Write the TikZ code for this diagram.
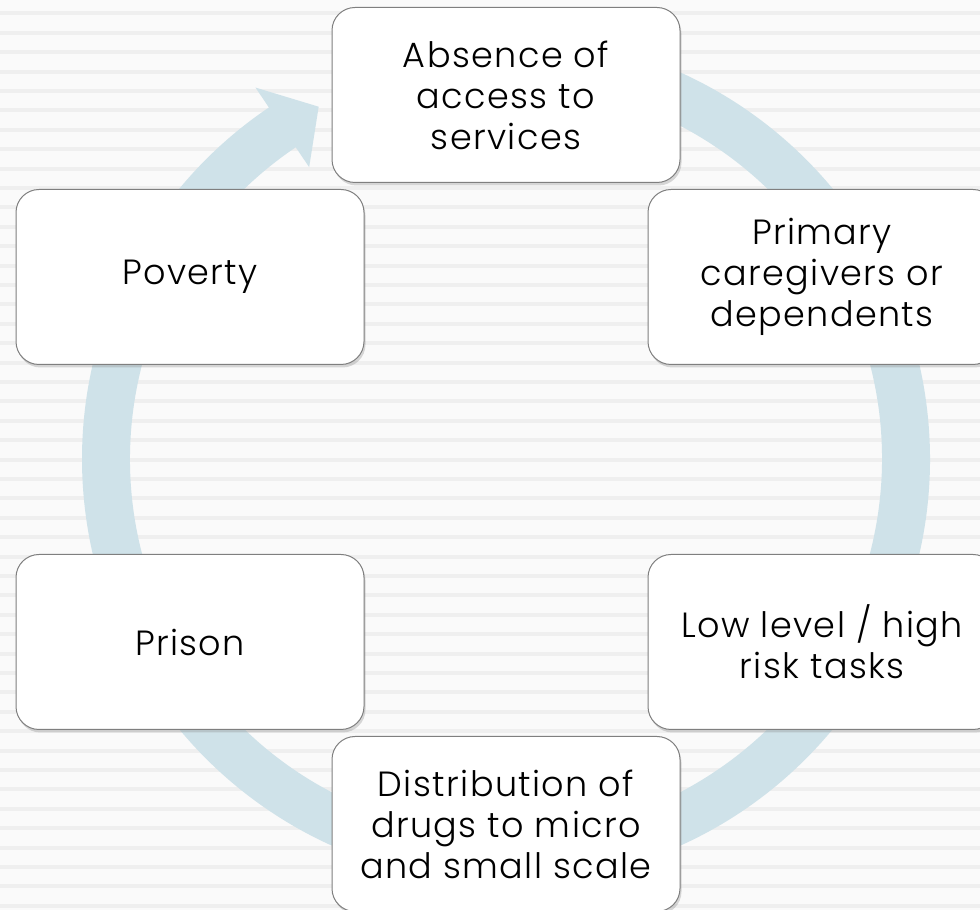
\documentclass[tikz,border=0pt]{standalone}
\usepackage{fontspec}
\setmainfont{Poppins}[UprightFont=* Light, LetterSpace=4]
\usetikzlibrary{calc,shadows}
\definecolor{colorring}{HTML}{CFE2E9}
\definecolor{colorpaper}{HTML}{FAFAFA}
\definecolor{colorstripe}{HTML}{EFEFEF}
\definecolor{colorframe}{HTML}{7F7F7F}

\begin{document}
\begin{tikzpicture}[x=1pt, y=1pt,
    stage/.style={draw=colorframe, line width=1pt, fill=white, rounded corners=23pt,
        minimum width=348pt, minimum height=175pt, align=center,
        font=\fontsize{35}{41}\selectfont,
        drop shadow={shadow xshift=1.5pt, shadow yshift=-3pt, opacity=0.3}}]
    \clip (0,0) rectangle (980,910);
    % lined paper
    \fill[colorpaper] (0,0) rectangle (980,910);
    \foreach \k in {0,...,46}
        \fill[colorstripe] (0,{896.6-19.4*\k-2}) rectangle (980,{896.6-19.4*\k+2});
    % the cycle ring and its head
    \coordinate (c) at (506,451);
    \fill[colorring] ($(c)+(95:424)$) arc[start angle=95, end angle=-236, radius=424]
        -- ($(c)+(-236:448)$) -- ($(c)+(-242:399)$) -- ($(c)+(-236:352)$)
        -- ($(c)+(-236:376)$) arc[start angle=-236, end angle=95, radius=376] -- cycle;
    % stages
    \node[stage] (absence) at (506,815) {Absence of\\access to\\services};
    \node[stage] (caregivers) at (822,633) {Primary\\caregivers or\\dependents};
    \node[stage] (tasks) at (822,268) {Low level / high\\risk tasks};
    \node[stage] (distribution) at (506,86) {Distribution of\\drugs to micro\\and small scale};
    \node[stage] (prison) at (190,268) {Prison};
    \node[stage] (poverty) at (190,633) {Poverty};
\end{tikzpicture}
\end{document}
